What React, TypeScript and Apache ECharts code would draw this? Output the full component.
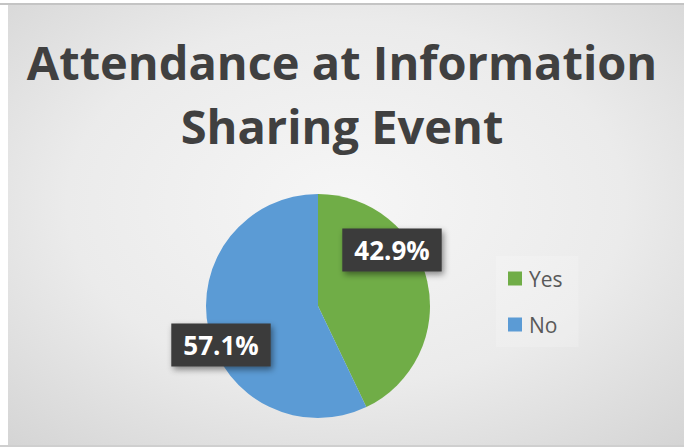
import React, { useEffect, useRef } from "react";
import * as echarts from "echarts";

const categories = ["Yes", "No"];
const values = [42.9, 57.1];
const colors = ["#70ad47", "#5b9bd5"];
const titleLines = ["Attendance at Information", "Sharing Event"];

export default function App() {
  const ref = useRef<HTMLDivElement>(null);
  useEffect(() => {
    document.body.style.margin = "0";
    const chart = echarts.init(ref.current!, null, { renderer: "svg" });
    const labelPos = [
      [392, 250],
      [221, 345],
    ];
    chart.setOption({
      animation: false,
      backgroundColor: "#ffffff",
      graphic: [
        {
          type: "rect",
          z: -100,
          silent: true,
          shape: { x: 8, y: 5, width: 676, height: 440 },
          style: {
            fill: new echarts.graphic.RadialGradient(0.5, 0.45, 0.75, [
              { offset: 0, color: "#f6f6f6" },
              { offset: 0.55, color: "#ebebeb" },
              { offset: 1, color: "#d4d4d4" },
            ]),
          },
        },
        {
          type: "rect",
          z: -99,
          silent: true,
          shape: { x: 0, y: 3, width: 684, height: 2 },
          style: { fill: "#c4c4c4" },
        },
        {
          type: "rect",
          z: -99,
          silent: true,
          shape: { x: 0, y: 445, width: 684, height: 2 },
          style: { fill: "#cfcfcf" },
        },
      ],
      title: {
        text: titleLines.join("\n"),
        left: "center",
        top: 25,
        padding: [5, 0, 5, 6],
        textStyle: {
          fontFamily: "Open Sans",
          fontWeight: "bold",
          fontSize: 47,
          lineHeight: 64,
          color: "#404040",
        },
      },
      legend: {
        orient: "vertical",
        left: 496,
        top: 256,
        data: categories,
        itemWidth: 14,
        itemHeight: 14,
        itemGap: 25,
        icon: "rect",
        padding: [12, 16, 12, 12],
        backgroundColor: "rgba(255,255,255,0.18)",
        textStyle: { fontFamily: "Open Sans", fontSize: 21, color: "#595959", padding: [0, 0, 0, 2] },
      },
      series: [
        {
          type: "pie",
          center: [318, 306],
          radius: 112,
          startAngle: 90,
          clockwise: true,
          percentPrecision: 1,
          data: categories.map((c, i) => ({
            name: c,
            value: values[i],
            itemStyle: { color: colors[i] },
          })),
          label: {
            show: true,
            position: "inside",
            formatter: "{d}%",
            color: "#ffffff",
            fontFamily: "Open Sans",
            fontWeight: "bold",
            fontSize: 26,
            backgroundColor: "#3a3a3a",
            padding: [9, 12, 8, 12],
            shadowColor: "rgba(0,0,0,0.45)",
            shadowBlur: 6,
            shadowOffsetX: 2,
            shadowOffsetY: 3,
            align: "center",
            verticalAlign: "middle",
          },
          labelLine: { show: false },
          labelLayout: (p: any) => ({
            x: labelPos[p.dataIndex][0],
            y: labelPos[p.dataIndex][1],
            align: "center",
            verticalAlign: "middle",
          }),
          emphasis: { disabled: true },
        },
      ],
    });
    return () => chart.dispose();
  }, []);
  return (
    <div style={{ width: 684, height: 448, background: "#fff" }}>
      <div ref={ref} style={{ width: 684, height: 448 }} />
    </div>
  );
}
